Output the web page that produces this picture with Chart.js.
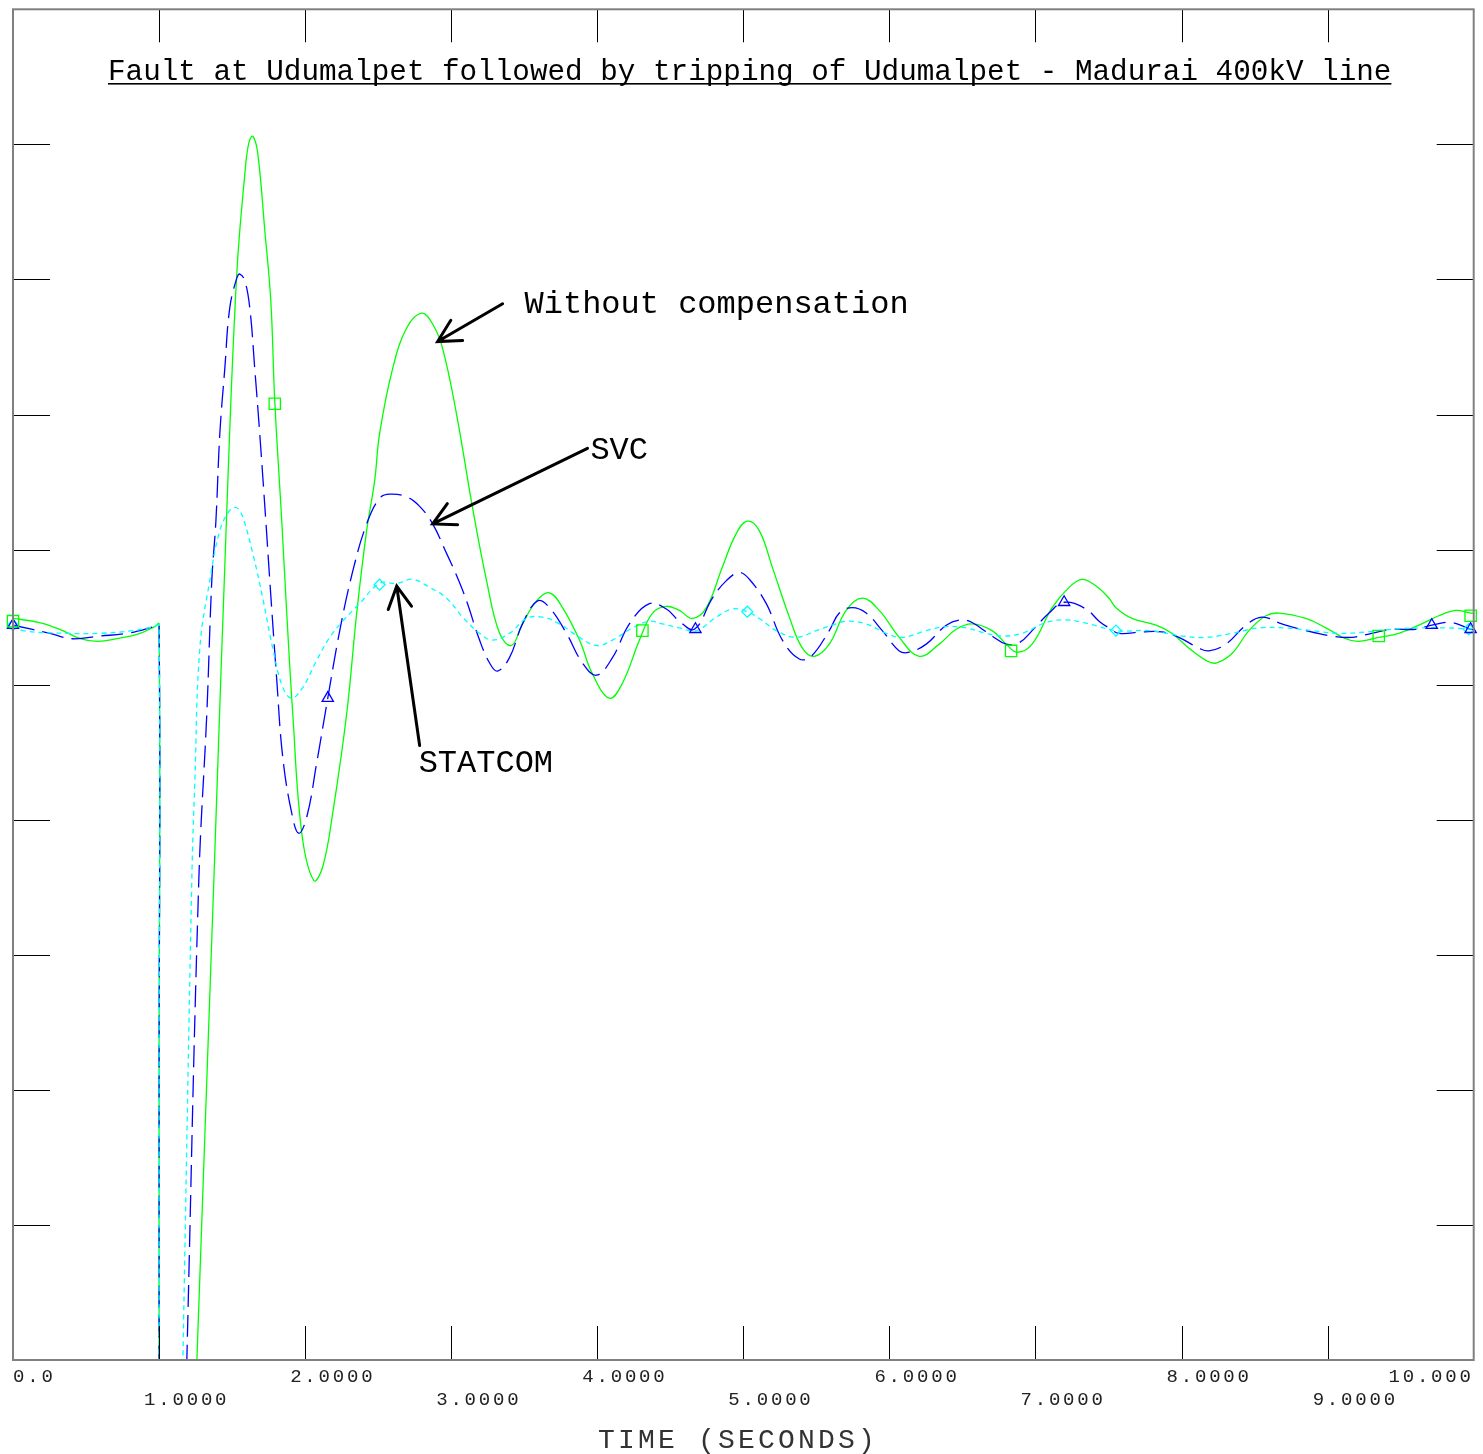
<!DOCTYPE html>
<html>
<head>
<meta charset="utf-8">
<script src="https://cdn.jsdelivr.net/npm/chart.js@4/dist/chart.umd.min.js"></script>
<style>
html, body { margin: 0; padding: 0; background: #fff; }
canvas { display: block; }
</style>
</head>
<body>
<canvas id="chart" width="1483" height="1454"></canvas>
<script>
// time axis labels (seconds)
const xTickLabels = ['0.0', '1.0000', '2.0000', '3.0000', '4.0000', '5.0000',
                     '6.0000', '7.0000', '8.0000', '9.0000', '10.000'];

// bus voltage, no compensation (fault at t = 1.0 s pulls it off the bottom of the plot)
const greenT = [0, 0.18, 0.32, 0.46, 0.58, 0.71, 0.87, 0.97, 1.0, 1.0, 1.0, 1.0, 1.16, 1.259,
  1.375, 1.471, 1.532, 1.587, 1.614, 1.642, 1.676, 1.724, 1.765, 1.792,
  1.840, 1.874, 1.915, 1.977, 2.059, 2.120, 2.189, 2.285, 2.353, 2.421,
  2.476, 2.510, 2.599, 2.695, 2.798, 2.873, 2.941, 3.037, 3.146, 3.242,
  3.331, 3.413, 3.488, 3.584, 3.673, 3.762, 3.878, 3.967, 4.083, 4.172,
  4.289, 4.378, 4.473, 4.562, 4.651, 4.747, 4.856, 4.952, 5.027, 5.109,
  5.198, 5.315, 5.404, 5.486, 5.588, 5.704, 5.814, 5.930, 6.067, 6.204,
  6.341, 6.457, 6.566, 6.703, 6.799, 6.874, 6.977, 7.114, 7.230, 7.319,
  7.415, 7.503, 7.551, 7.661, 7.825, 7.934, 8.051, 8.167, 8.235, 8.345,
  8.461, 8.577, 8.666, 8.851, 8.988, 9.124, 9.213, 9.350, 9.487, 9.624,
  9.761, 9.877, 9.979, 10.0];
const greenV = [5.49, 5.46, 5.41, 5.34, 5.32, 5.34, 5.38, 5.43, 5.45, 2.0, -1, -3, -3, 0,
  3.55, 6.51, 8.04, 8.78, 9.01, 9.06, 8.93, 8.36, 7.84, 7.10,
  6.21, 5.53, 4.79, 3.90, 3.55, 3.65, 4.05, 4.79, 5.53, 6.14,
  6.51, 6.86, 7.34, 7.64, 7.75, 7.67, 7.49, 7.00, 6.31, 5.77,
  5.38, 5.29, 5.45, 5.62, 5.68, 5.57, 5.33, 5.08, 4.90, 5.01,
  5.33, 5.53, 5.58, 5.55, 5.49, 5.57, 5.87, 6.12, 6.21, 6.14,
  5.87, 5.50, 5.27, 5.21, 5.30, 5.55, 5.64, 5.55, 5.35, 5.21,
  5.30, 5.41, 5.45, 5.40, 5.30, 5.24, 5.30, 5.57, 5.72, 5.78,
  5.73, 5.64, 5.57, 5.49, 5.44, 5.38, 5.27, 5.18, 5.16, 5.23,
  5.40, 5.51, 5.53, 5.49, 5.42, 5.34, 5.32, 5.35, 5.38, 5.44,
  5.51, 5.55, 5.53, 5.53];

// bus voltage with SVC
const blueT = [0, 0.253, 0.404, 0.595, 0.78, 0.97, 1.0, 1.0, 1.0, 1.0, 1.121, 1.190,
  1.272, 1.327, 1.361, 1.389, 1.416, 1.450, 1.484, 1.532, 1.553, 1.587,
  1.621, 1.655, 1.689, 1.731, 1.758, 1.806, 1.847, 1.908, 1.956, 2.011,
  2.079, 2.155, 2.237, 2.326, 2.421, 2.510, 2.579, 2.695, 2.784, 2.873,
  2.969, 3.044, 3.105, 3.194, 3.263, 3.317, 3.399, 3.488, 3.591, 3.673,
  3.789, 3.899, 3.995, 4.104, 4.220, 4.357, 4.473, 4.562, 4.665, 4.788,
  4.884, 4.973, 5.041, 5.157, 5.267, 5.383, 5.465, 5.588, 5.657, 5.746,
  5.841, 5.951, 6.067, 6.135, 6.252, 6.389, 6.491, 6.566, 6.703, 6.799,
  6.888, 6.977, 7.093, 7.196, 7.346, 7.435, 7.503, 7.572, 7.729, 7.866,
  7.982, 8.119, 8.187, 8.304, 8.441, 8.550, 8.687, 8.851, 9.029, 9.166,
  9.302, 9.439, 9.603, 9.713, 9.850, 9.979, 10.0];
const blueV = [5.44, 5.38, 5.34, 5.36, 5.38, 5.43, 5.44, 2.0, -1, -3, -3, 0,
  3.55, 4.79, 5.77, 6.21, 6.86, 7.34, 7.79, 8.01, 8.04, 7.99,
  7.79, 7.34, 6.86, 6.21, 5.77, 5.03, 4.46, 4.05, 3.90, 4.02,
  4.42, 4.90, 5.40, 5.84, 6.19, 6.38, 6.41, 6.39, 6.32, 6.19,
  5.97, 5.79, 5.62, 5.33, 5.16, 5.10, 5.20, 5.45, 5.62, 5.57,
  5.38, 5.16, 5.07, 5.20, 5.45, 5.60, 5.56, 5.47, 5.41, 5.64,
  5.77, 5.83, 5.78, 5.60, 5.33, 5.19, 5.21, 5.40, 5.53, 5.57,
  5.53, 5.40, 5.25, 5.24, 5.30, 5.44, 5.48, 5.46, 5.36, 5.30,
  5.31, 5.40, 5.53, 5.61, 5.56, 5.47, 5.42, 5.38, 5.39, 5.39,
  5.35, 5.27, 5.25, 5.30, 5.44, 5.50, 5.45, 5.40, 5.36, 5.35,
  5.38, 5.41, 5.41, 5.44, 5.46, 5.41, 5.41];

// bus voltage with STATCOM
const cyanT = [0, 0.068, 0.369, 0.595, 0.821, 0.97, 1.0, 1.0, 1.0, 1.0, 1.111, 1.163,
  1.224, 1.245, 1.279, 1.347, 1.416, 1.484, 1.532, 1.573, 1.642, 1.710,
  1.778, 1.847, 1.908, 1.984, 2.079, 2.168, 2.257, 2.373, 2.510, 2.627,
  2.736, 2.852, 2.969, 3.078, 3.194, 3.283, 3.399, 3.516, 3.625, 3.741,
  3.878, 3.995, 4.104, 4.241, 4.357, 4.446, 4.562, 4.679, 4.815, 4.925,
  5.027, 5.109, 5.226, 5.363, 5.499, 5.636, 5.704, 5.841, 5.978, 6.088,
  6.252, 6.389, 6.525, 6.662, 6.772, 6.908, 7.073, 7.209, 7.367, 7.551,
  7.777, 8.003, 8.167, 8.345, 8.529, 8.714, 8.892, 9.077, 9.261, 9.439,
  9.624, 9.809, 10.0];
const cyanV = [5.44, 5.40, 5.38, 5.38, 5.40, 5.43, 5.44, 2.0, -1, -3, -3, 0,
  3.55, 4.29, 5.27, 5.77, 6.14, 6.29, 6.31, 6.24, 5.97, 5.64,
  5.27, 4.98, 4.90, 4.98, 5.18, 5.35, 5.47, 5.60, 5.75, 5.75,
  5.78, 5.72, 5.64, 5.50, 5.38, 5.33, 5.38, 5.49, 5.50, 5.45,
  5.35, 5.29, 5.33, 5.42, 5.47, 5.45, 5.42, 5.40, 5.50, 5.56,
  5.54, 5.49, 5.40, 5.35, 5.40, 5.45, 5.47, 5.45, 5.38, 5.35,
  5.40, 5.43, 5.42, 5.38, 5.36, 5.38, 5.46, 5.48, 5.45, 5.40,
  5.40, 5.36, 5.35, 5.38, 5.42, 5.42, 5.40, 5.38, 5.39, 5.41,
  5.42, 5.42, 5.41];

// symbols plotted along each trace
const greenMarkT = [0, 1.792, 4.309, 6.833, 9.350, 9.979];
const greenMarkV = [5.47, 7.08, 5.40, 5.25, 5.36, 5.51];
const blueMarkT = [0, 2.155, 4.672, 7.196, 9.713, 9.979];
const blueMarkV = [5.44, 4.90, 5.41, 5.61, 5.44, 5.41];
const cyanMarkT = [0, 2.510, 5.027, 7.551, 9.966];
const cyanMarkV = [5.44, 5.74, 5.54, 5.40, 5.41];

const GREEN = '#00ff00', BLUE = '#0000ff', CYAN = '#00ffff';

function pts(ts, vs) {
  return ts.map((t, i) => ({ x: t, y: vs[i] }));
}

function trace(data, color, dash, order) {
  return {
    data, borderColor: color, borderWidth: 1.3, borderDash: dash,
    pointRadius: 0, tension: 0.4, fill: false, order
  };
}

function marks(data, color, style, r) {
  return {
    data, showLine: false, clip: false, order: 0,
    pointStyle: style, pointRadius: r,
    pointBorderColor: color, pointBackgroundColor: 'rgba(0,0,0,0)',
    pointBorderWidth: 1.3
  };
}

// labels and arrows, placed in data units
const notes = [
  { text: 'Without compensation', t: 3.502, v: 7.75, tail: [3.352, 7.82], tip: [2.907, 7.54] },
  { text: 'SVC', t: 3.953, v: 6.67, tail: [3.933, 6.75], tip: [2.873, 6.19] },
  { text: 'STATCOM', t: 2.777, v: 4.35, tail: [2.784, 4.55], tip: [2.627, 5.73] }
];

const decor = {
  id: 'decor',
  afterDraw(chart) {
    const { ctx, chartArea: a, scales: { x, y } } = chart;
    ctx.save();

    // inward tick marks on all four sides
    ctx.strokeStyle = '#000';
    ctx.lineWidth = 1;
    ctx.beginPath();
    for (let t = 1; t < 10; t++) {
      const px = Math.round(x.getPixelForValue(t)) + 0.5;
      ctx.moveTo(px, a.top); ctx.lineTo(px, a.top + 33);
      ctx.moveTo(px, a.bottom); ctx.lineTo(px, a.bottom - 34);
    }
    for (let v = 1; v < 10; v++) {
      const py = Math.round(y.getPixelForValue(v)) + 0.5;
      ctx.moveTo(a.left, py); ctx.lineTo(a.left + 37, py);
      ctx.moveTo(a.right, py); ctx.lineTo(a.right - 37, py);
    }
    ctx.stroke();

    // frame
    ctx.strokeStyle = '#808080';
    ctx.lineWidth = 2;
    ctx.strokeRect(a.left, a.top, a.right - a.left, a.bottom - a.top);

    // time labels in two staggered rows
    ctx.fillStyle = '#222';
    ctx.font = '19px "Liberation Mono"';
    ctx.letterSpacing = '2.8px';
    ctx.textBaseline = 'alphabetic';
    xTickLabels.forEach((lab, i) => {
      const px = x.getPixelForValue(i);
      const base = i % 2 === 0 ? a.bottom + 22 : a.bottom + 45;
      if (i === 0) {
        ctx.textAlign = 'left';
        ctx.fillText(lab, a.left, base);
      } else if (i === xTickLabels.length - 1) {
        ctx.textAlign = 'right';
        ctx.fillText(lab, a.right, base);
      } else {
        ctx.textAlign = 'left';
        ctx.fillText(lab, px - 15, base);
      }
    });

    ctx.font = '28px "Liberation Mono"';
    ctx.letterSpacing = '3.2px';
    ctx.textAlign = 'left';
    ctx.fillStyle = '#333';
    ctx.fillText('TIME (SECONDS)', 598, a.bottom + 88);

    // title, underlined
    ctx.letterSpacing = '0px';
    ctx.fillStyle = '#000';
    ctx.font = '29.3px "Liberation Mono"';
    const title = 'Fault at Udumalpet followed by tripping of Udumalpet - Madurai 400kV line';
    const tx = 108;
    ctx.fillText(title, tx, 80);
    const tw = ctx.measureText(title).width;
    ctx.fillRect(tx, 83, tw, 1.6);

    // curve annotations
    ctx.font = '32px "Liberation Mono"';
    ctx.strokeStyle = '#000';
    ctx.lineWidth = 3;
    ctx.lineCap = 'round';
    notes.forEach(n => {
      ctx.fillText(n.text, x.getPixelForValue(n.t), y.getPixelForValue(n.v));
      const x0 = x.getPixelForValue(n.tail[0]), y0 = y.getPixelForValue(n.tail[1]);
      const x1 = x.getPixelForValue(n.tip[0]), y1 = y.getPixelForValue(n.tip[1]);
      const back = Math.atan2(y0 - y1, x0 - x1);
      const len = 25, spread = 28 * Math.PI / 180;
      ctx.beginPath();
      ctx.moveTo(x0, y0); ctx.lineTo(x1, y1);
      ctx.moveTo(x1 + len * Math.cos(back - spread), y1 + len * Math.sin(back - spread));
      ctx.lineTo(x1, y1);
      ctx.lineTo(x1 + len * Math.cos(back + spread), y1 + len * Math.sin(back + spread));
      ctx.stroke();
    });

    ctx.restore();
  }
};

const ctx = document.getElementById('chart').getContext('2d');
const chart = new Chart(ctx, {
  type: 'line',
  data: {
    datasets: [
      trace(pts(greenT, greenV), GREEN, [], 3),
      trace(pts(blueT, blueV), BLUE, [22, 8], 2),
      trace(pts(cyanT, cyanV), CYAN, [5, 4], 1),
      marks(pts(greenMarkT, greenMarkV), GREEN, 'rect', 8),
      marks(pts(blueMarkT, blueMarkV), BLUE, 'triangle', 6.5),
      marks(pts(cyanMarkT, cyanMarkV), CYAN, 'rectRot', 5.5)
    ]
  },
  options: {
    responsive: false,
    animation: false,
    layout: { padding: { left: 13, right: 8, top: 8, bottom: 94 } },
    scales: {
      x: { type: 'linear', min: 0, max: 10, display: false },
      y: { type: 'linear', min: 0, max: 10, display: false }
    },
    plugins: {
      legend: { display: false },
      tooltip: { enabled: false }
    }
  },
  plugins: [decor]
});
</script>
</body>
</html>
